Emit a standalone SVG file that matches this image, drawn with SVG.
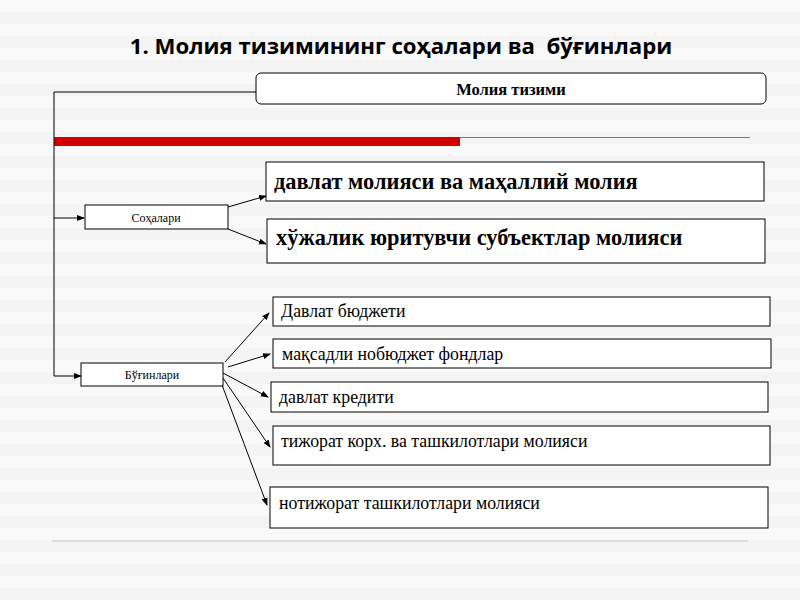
<svg xmlns="http://www.w3.org/2000/svg" width="800" height="600" viewBox="0 0 800 600">
<defs>
<marker id="ar" markerWidth="8" markerHeight="8" refX="7" refY="4" orient="auto" markerUnits="userSpaceOnUse"><path d="M0,1 L8,4 L0,7 Z" fill="#000"/></marker>
<pattern id="st" width="10" height="24" patternUnits="userSpaceOnUse"><rect width="10" height="24" fill="#f9f9f9"/><rect y="12" width="10" height="12" fill="#f4f4f4"/></pattern>
</defs>
<style>
.b{fill:#fff;stroke:#000;stroke-width:1}
.c{stroke:#000;stroke-width:1;fill:none}
.s{font-family:"Liberation Serif",serif;fill:#000}
</style>
<rect width="800" height="600" fill="url(#st)"/>
<text x="401" y="54" text-anchor="middle" font-family="Open Sans, sans-serif" font-weight="bold" font-size="22.2" xml:space="preserve">1. Молия тизимининг соҳалари ва  бўғинлари</text>
<rect x="54" y="137" width="406" height="9" fill="#d40000"/>
<line x1="460" y1="137.5" x2="750" y2="137.5" stroke="#e05050" stroke-width="1"/>
<line x1="52" y1="541" x2="748" y2="541" stroke="#c8c8c8" stroke-width="1"/>
<g id="connectors">
<path class="c" d="M256,92 H54 V376 H81" marker-end="url(#ar)"/>
<path class="c" d="M54,218 H84" marker-end="url(#ar)"/>
<path class="c" d="M228,207 L266,196" marker-end="url(#ar)"/>
<path class="c" d="M228,229 L266,244" marker-end="url(#ar)"/>
<path class="c" d="M225,362 L269,313" marker-end="url(#ar)"/>
<path class="c" d="M228,367 L270,354" marker-end="url(#ar)"/>
<path class="c" d="M223,373 L268,397" marker-end="url(#ar)"/>
<path class="c" d="M223,378 L270,447" marker-end="url(#ar)"/>
<path class="c" d="M222,385 L267,505" marker-end="url(#ar)"/>
</g>
<g id="root"><rect class="b" x="256" y="73" width="510" height="31" rx="5"/><text class="s" x="511" y="95" text-anchor="middle" font-weight="bold" font-size="16.5">Молия тизими</text></g>
<g id="sohalari"><rect class="b" x="85" y="205" width="143" height="24"/><text class="s" x="156" y="222" text-anchor="middle" font-size="12">Соҳалари</text></g>
<g id="buginlari"><rect class="b" x="81" y="363" width="142" height="23"/><text class="s" x="152" y="379" text-anchor="middle" font-size="12">Бўғинлари</text></g>
<g id="n1"><rect class="b" x="266" y="162" width="498" height="39"/><text class="s" x="274" y="189" font-weight="bold" font-size="22.4">давлат молияси ва маҳаллий молия</text></g>
<g id="n2"><rect class="b" x="267" y="219" width="498" height="44"/><text class="s" x="276" y="245" font-weight="bold" font-size="22.4">хўжалик юритувчи субъектлар молияси</text></g>
<g id="n3"><rect class="b" x="273" y="297" width="497" height="29"/><text class="s" x="281" y="317" font-size="17.8">Давлат бюджети</text></g>
<g id="n4"><rect class="b" x="273" y="339" width="498" height="29"/><text class="s" x="282" y="360" font-size="17.8">мақсадли нобюджет фондлар</text></g>
<g id="n5"><rect class="b" x="271" y="382" width="497" height="30"/><text class="s" x="279" y="403" font-size="17.8">давлат кредити</text></g>
<g id="n6"><rect class="b" x="273" y="426" width="497" height="39"/><text class="s" x="281" y="447" font-size="17.8">тижорат корх. ва ташкилотлари молияси</text></g>
<g id="n7"><rect class="b" x="270" y="487" width="498" height="41"/><text class="s" x="279" y="509" font-size="17.8">нотижорат ташкилотлари молияси</text></g>
</svg>
